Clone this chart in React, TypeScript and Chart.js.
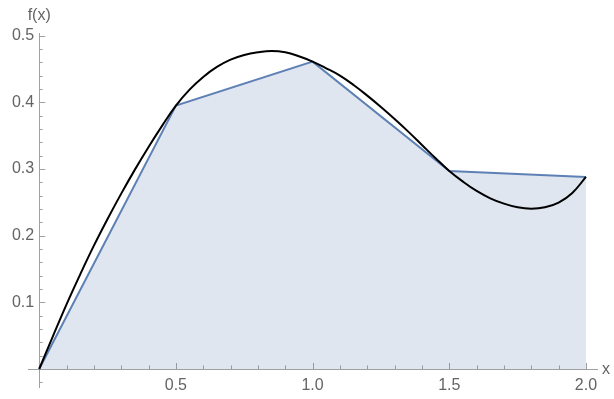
import React, { useEffect, useRef } from "react";
import { Chart, registerables } from "chart.js";

Chart.register(...registerables);

// Black curve f(x)
const curveX = [0, 0.05, 0.1, 0.15, 0.2, 0.25, 0.3, 0.35, 0.4, 0.45, 0.5, 0.55, 0.6, 0.65, 0.7, 0.75, 0.8, 0.85, 0.9, 0.95, 1.0,
  1.05, 1.1, 1.15, 1.2, 1.25, 1.3, 1.35, 1.4, 1.45, 1.5, 1.55, 1.6, 1.65, 1.7, 1.75, 1.8, 1.85, 1.9, 1.95, 2.0];
const curveY = [0, 0.049, 0.097, 0.142, 0.185, 0.225, 0.263, 0.299, 0.333, 0.365, 0.395, 0.419, 0.438, 0.453, 0.464, 0.471, 0.475, 0.477, 0.475, 0.469, 0.461,
  0.451, 0.44, 0.426, 0.41, 0.393, 0.375, 0.356, 0.336, 0.316, 0.297, 0.281, 0.267, 0.256, 0.248, 0.2425, 0.2405, 0.2425, 0.2495, 0.264, 0.288];

// Trapezoid approximation nodes
const trapX = [0, 0.5, 1, 1.5, 2];
const trapY = [0, 0.395, 0.461, 0.297, 0.288];

// Axes
const xMajorTicks = [0.5, 1, 1.5, 2];
const xTickLabels = ["0.5", "1.0", "1.5", "2.0"];
const xMinorTicks = [0.1, 0.2, 0.3, 0.4, 0.6, 0.7, 0.8, 0.9, 1.1, 1.2, 1.3, 1.4, 1.6, 1.7, 1.8, 1.9];
const yMajorTicks = [0.1, 0.2, 0.3, 0.4, 0.5];
const yTickLabels = ["0.1", "0.2", "0.3", "0.4", "0.5"];
const yMinorTicks = [-0.02, 0.02, 0.04, 0.06, 0.08, 0.12, 0.14, 0.16, 0.18, 0.22, 0.24, 0.26, 0.28, 0.32, 0.34, 0.36, 0.38, 0.42, 0.44, 0.46, 0.48];
const xAxisLabel = "x";
const yAxisLabel = "f(x)";
const xRange = [-0.041, 2.044];
const yRange = [-0.0285, 0.5039];

const AXIS_COLOR = "rgb(160,160,160)";
const LABEL_COLOR = "rgb(100,100,100)";
const FONT = '16px "Liberation Sans", Arial, sans-serif';

const axesPlugin = {
  id: "mmaAxes",
  beforeDatasetsDraw(chart: any) {
    const { ctx, scales } = chart;
    const xs = scales.x;
    const ys = scales.y;
    const x0 = xs.getPixelForValue(0);
    const y0 = ys.getPixelForValue(0);
    ctx.save();
    ctx.strokeStyle = AXIS_COLOR;
    ctx.lineWidth = 1;
    ctx.beginPath();
    ctx.moveTo(xs.left, Math.round(y0) + 0.5);
    ctx.lineTo(xs.right, Math.round(y0) + 0.5);
    ctx.moveTo(Math.round(x0) + 0.5, ys.bottom);
    ctx.lineTo(Math.round(x0) + 0.5, ys.top);
    ctx.stroke();
    ctx.beginPath();
    xMajorTicks.forEach((v) => {
      const p = Math.round(xs.getPixelForValue(v)) + 0.5;
      ctx.moveTo(p, y0);
      ctx.lineTo(p, y0 - 6);
    });
    xMinorTicks.forEach((v) => {
      const p = Math.round(xs.getPixelForValue(v)) + 0.5;
      ctx.moveTo(p, y0);
      ctx.lineTo(p, y0 - 3.5);
    });
    yMajorTicks.forEach((v) => {
      const p = Math.round(ys.getPixelForValue(v)) + 0.5;
      ctx.moveTo(x0, p);
      ctx.lineTo(x0 + 6, p);
    });
    yMinorTicks.forEach((v) => {
      const p = Math.round(ys.getPixelForValue(v)) + 0.5;
      ctx.moveTo(x0, p);
      ctx.lineTo(x0 + 3.5, p);
    });
    ctx.stroke();
    ctx.fillStyle = LABEL_COLOR;
    ctx.font = FONT;
    ctx.textAlign = "center";
    ctx.textBaseline = "middle";
    xMajorTicks.forEach((v, i) => {
      ctx.fillText(xTickLabels[i], xs.getPixelForValue(v), y0 + 17);
    });
    ctx.textAlign = "right";
    yMajorTicks.forEach((v, i) => {
      ctx.fillText(yTickLabels[i], x0 - 5, ys.getPixelForValue(v));
    });
    ctx.textAlign = "left";
    ctx.fillText(xAxisLabel, xs.right + 4, y0 + 1);
    ctx.textAlign = "center";
    ctx.fillText(yAxisLabel, x0, ys.top - 17);
    ctx.restore();
  },
};

export default function App() {
  const ref = useRef<HTMLCanvasElement | null>(null);
  useEffect(() => {
    if (!ref.current) return;
    const chart = new Chart(ref.current, {
      type: "line",
      data: {
        datasets: [
          {
            label: "f",
            data: curveX.map((x, i) => ({ x, y: curveY[i] })),
            borderColor: "#000000",
            borderWidth: 2,
            pointRadius: 0,
            tension: 0.4,
            fill: false,
          },
          {
            label: "trap",
            data: trapX.map((x, i) => ({ x, y: trapY[i] })),
            borderColor: "rgb(94,129,181)",
            backgroundColor: "rgba(94,129,181,0.2)",
            borderWidth: 2,
            pointRadius: 0,
            tension: 0,
            fill: "origin",
          },
        ],
      },
      options: {
        responsive: false,
        animation: false,
        layout: { padding: { left: 28, right: 16, top: 33, bottom: 11 } },
        plugins: { legend: { display: false }, tooltip: { enabled: false } },
        scales: {
          x: { type: "linear", min: xRange[0], max: xRange[1], display: false },
          y: { type: "linear", min: yRange[0], max: yRange[1], display: false },
        },
      },
      plugins: [axesPlugin],
    });
    return () => chart.destroy();
  }, []);
  return (
    <div style={{ position: "fixed", left: 0, top: 0, width: 614, height: 399, background: "#fff" }}>
      <canvas ref={ref} width={614} height={399} />
    </div>
  );
}
